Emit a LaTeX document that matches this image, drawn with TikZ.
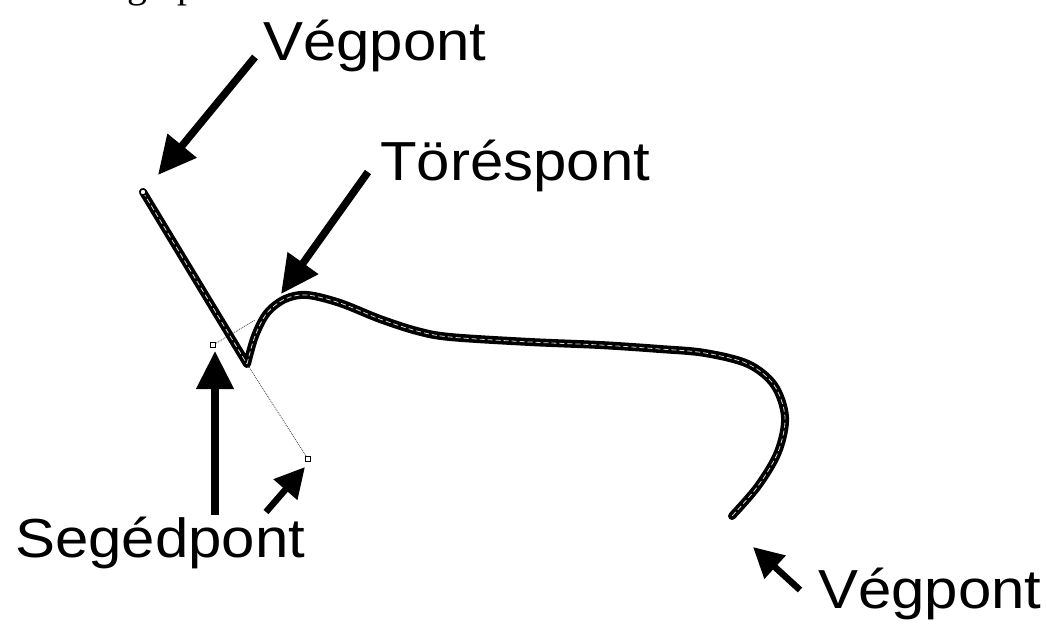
\documentclass[tikz,border=0pt]{standalone}
\usepackage{fontspec}
\setmainfont{Liberation Sans}
\newfontfamily\seriffont{Liberation Serif}
\usetikzlibrary{arrows.meta}
\tikzset{
  lbl/.style={anchor=base west, inner sep=0pt, font=\fontsize{55}{60}\selectfont, xscale=1.09},
  bigarrow/.style={line width=7.5pt, -{Triangle[length=38pt,width=36pt]}},
  smallarrow/.style={line width=6.5pt, -{Triangle[length=30pt,width=30pt]}},
  strokeblack/.style={line width=8pt, line cap=round, line join=round, black},
  strokewhite/.style={line width=0.8pt, white!85!black, dash pattern=on 5pt off 3pt},
  handle/.style={densely dotted, line width=0.9pt, gray!70!black},
  marker/.style={circle, draw=black, fill=white, line width=1.3pt, inner sep=0pt, minimum size=6pt},
}
\begin{document}
\begin{tikzpicture}[x=1pt,y=-1pt]
\useasboundingbox (0,0) rectangle (1047,627);
% cropped text fragment at top edge
\begin{scope}
\clip (0,0) rectangle (1047,627);
\node[anchor=base west, inner sep=0pt, font=\seriffont\fontsize{40}{44}\selectfont] (frag1) at (127,-3) {g};
\node[anchor=base west, inner sep=0pt, font=\seriffont\fontsize{40}{44}\selectfont] (frag2) at (177,-3) {p};
\end{scope}

% key points
\coordinate (e1) at (143,192);
\coordinate (cusp) at (247,364);
\coordinate (e2) at (732,516);
\coordinate (h1) at (213,345);
\coordinate (h2) at (308,459);
\coordinate (h1end) at (255,320);

% handles
\draw[handle] (h1) -- (h1end);
\draw[handle] (cusp) -- (h2);

% the path
\def\mypath{(e1) -- (cusp) plot[smooth, tension=0.55] coordinates {(247,364) (255,336) (267,313) (285,299) (307,295) (340,303) (380,319) (417,331) (450,337) (530,342) (600,345) (660,349) (705,353) (748,364) (774,385) (785,417) (778,452) (758,486) (732,516)}}
\draw[strokeblack] \mypath;
\draw[strokewhite] \mypath;

\node[marker] (m1) at (e1) {};
\node[marker, rectangle, minimum size=5pt] (m2) at (h1) {};
\node[marker, rectangle, minimum size=5pt] (m3) at (h2) {};

% labels
\node[lbl] (veg1) at (263,60) {Végpont};
\node[lbl] (tores) at (380,180) {Töréspont};
\node[lbl] (seged) at (15,557) {Segédpont};
\node[lbl] (veg2) at (818,608) {Végpont};

% arrows
\coordinate (a1s) at (255,57);
\coordinate (a1e) at (158,175);
\coordinate (a2s) at (368,172);
\coordinate (a2e) at (281,294);
\coordinate (a3s) at (215,515);
\coordinate (a3e) at (215,351);
\coordinate (a4s) at (266,512);
\coordinate (a4e) at (305,467);
\coordinate (a5s) at (800,590);
\coordinate (a5e) at (753,547);
\draw[bigarrow] (a1s) -- (a1e);
\draw[bigarrow] (a2s) -- (a2e);
\draw[bigarrow] (a3s) -- (a3e);
\draw[smallarrow] (a4s) -- (a4e);
\draw[smallarrow] (a5s) -- (a5e);
\end{tikzpicture}
\end{document}
